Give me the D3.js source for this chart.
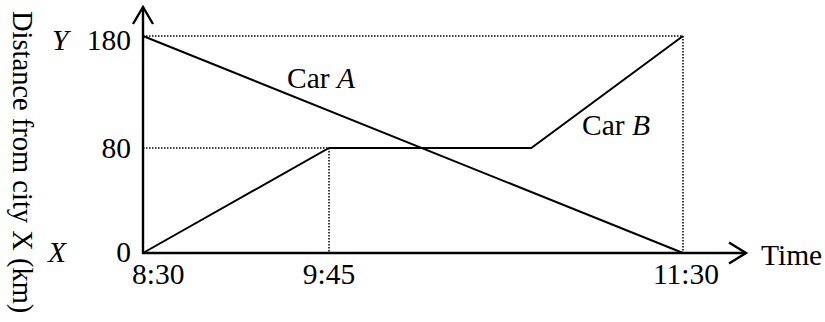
<!DOCTYPE html>
<html>
<head>
<meta charset="utf-8">
<script src="https://cdn.jsdelivr.net/npm/d3@7"></script>
<style>
html,body{margin:0;padding:0;background:#fff;}
svg{display:block;}
text{font-family:"Liberation Serif","Times New Roman",serif;fill:#000;}
</style>
</head>
<body>
<svg id="chart" width="825" height="322"></svg>
<script>
// ---- data ----
const timeLabels = ["8:30", "9:45", "11:30"];
const timeMinutes = [0, 75, 180];          // minutes after 8:30
const distTicks = [0, 80, 180];             // km
const carAMinutes = [0, 180];
const carADist = [180, 0];
const carBMinutes = [0, 75, 135, 180];
const carBDist = [0, 80, 80, 180];

const svg = d3.select("#chart");
const FS = 29.5;

// schematic (piecewise) scales
const x = d3.scaleLinear().domain(timeMinutes).range([143, 329, 683]);
const y = d3.scaleLinear().domain(distTicks).range([253, 148, 36]);

// dotted guides
const guides = svg.append("g").attr("stroke", "#000").attr("stroke-width", 1.5)
  .attr("stroke-dasharray", "1.5,1.5").attr("fill", "none");
guides.append("line").attr("x1", x(0)).attr("x2", x(180)).attr("y1", y(180)).attr("y2", y(180));
guides.append("line").attr("x1", x(180)).attr("x2", x(180)).attr("y1", y(180)).attr("y2", y(0));
guides.append("line").attr("x1", x(0)).attr("x2", x(75)).attr("y1", y(80)).attr("y2", y(80));
guides.append("line").attr("x1", x(75)).attr("x2", x(75)).attr("y1", y(80)).attr("y2", y(0));

// axes with open arrowheads
const ax = svg.append("g").attr("stroke", "#000").attr("stroke-width", 2.4).attr("fill", "none");
const x0 = x(0), y0 = y(0);
ax.append("line").attr("x1", x0).attr("x2", x0).attr("y1", y0 + 1).attr("y2", 7);
ax.append("path").attr("d", `M${x0 - 10},24 L${x0},7 L${x0 + 10},24`);
ax.append("line").attr("x1", x0 - 1).attr("x2", 746).attr("y1", y0).attr("y2", y0);
ax.append("path").attr("d", `M729,${y0 - 10.5} L746,${y0} L729,${y0 + 10.5}`);

// car lines
const line = d3.line().x(d => x(d[0])).y(d => y(d[1]));
svg.append("path").datum(d3.zip(carAMinutes, carADist)).attr("d", line)
  .attr("fill", "none").attr("stroke", "#000").attr("stroke-width", 2);
svg.append("path").datum(d3.zip(carBMinutes, carBDist)).attr("d", line)
  .attr("fill", "none").attr("stroke", "#000").attr("stroke-width", 2).attr("stroke-linejoin", "miter");

// y tick labels
const yOff = {0: 9, 80: 10, 180: 14};
distTicks.forEach(v => {
  svg.append("text").attr("x", 131).attr("y", y(v) + yOff[v])
    .attr("text-anchor", "end").attr("font-size", FS).text(v);
});
svg.append("text").attr("x", 52).attr("y", y(180) + 14).attr("font-size", FS)
  .attr("font-style", "italic").text("Y");
svg.append("text").attr("x", 48).attr("y", y(0) + 9).attr("font-size", FS)
  .attr("font-style", "italic").text("X");

// x tick labels
timeLabels.forEach((lab, i) => {
  const t = timeMinutes[i];
  const tx = i === 0 ? x(t) - 11 : x(t) + (i === 2 ? 3 : 0);
  svg.append("text").attr("x", tx).attr("y", 284)
    .attr("text-anchor", i === 0 ? "start" : "middle").attr("font-size", FS).text(lab);
});
svg.append("text").attr("x", 761).attr("y", 265).attr("font-size", FS).text("Time");

// series labels
const la = svg.append("text").attr("x", 287).attr("y", 88).attr("font-size", FS);
la.append("tspan").text("Car ");
la.append("tspan").attr("font-style", "italic").text("A");
const lb = svg.append("text").attr("x", 582).attr("y", 135).attr("font-size", FS);
lb.append("tspan").text("Car ");
lb.append("tspan").attr("font-style", "italic").text("B");

// rotated y-axis title
svg.append("text").attr("transform", "translate(13,11) rotate(90)")
  .attr("font-size", 28.5).text("Distance from city X (km)");
</script>
</body>
</html>
